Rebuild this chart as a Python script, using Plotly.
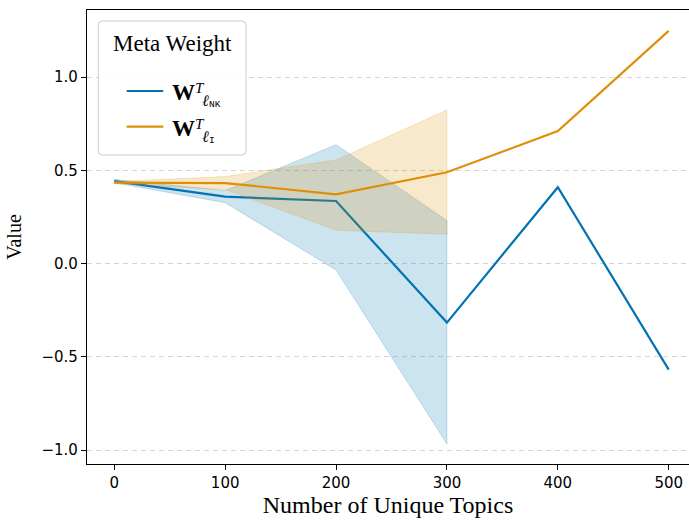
import plotly.graph_objects as go

# ---- data ----
topics = [0, 100, 200, 300, 400, 500]
nk_mean = [0.443, 0.359, 0.336, -0.316, 0.410, -0.568]
i_mean = [0.434, 0.432, 0.372, 0.490, 0.711, 1.248]

band_topics = [0, 100, 200, 300]
nk_upper = [0.452, 0.392, 0.638, 0.231]
nk_lower = [0.434, 0.327, -0.034, -0.967]
i_upper = [0.440, 0.467, 0.556, 0.824]
i_lower = [0.428, 0.398, 0.179, 0.158]

y_ticks = [-1.0, -0.5, 0.0, 0.5, 1.0]
y_tick_labels = ["−1.0", "−0.5", "0.0", "0.5", "1.0"]
x_ticks = [0, 100, 200, 300, 400, 500]

BLUE = "#0173B2"
ORANGE = "#DE8F05"
BLUE_FILL = "rgba(1,115,178,0.2)"
ORANGE_FILL = "rgba(222,143,5,0.2)"

W, H = 689, 521
L, R, T, B = 87, 0, 10, 57
PW, PH = W - L - R, H - T - B


def px(x):
    return (x - L) / PW


def py(y):
    return (H - B - y) / PH


fig = go.Figure()


def band(xs, up, lo, color):
    return go.Scatter(
        x=list(xs) + list(xs[::-1]),
        y=list(up) + list(lo[::-1]),
        fill="toself", fillcolor=color,
        line=dict(color=color, width=1),
        mode="lines", hoverinfo="skip", showlegend=False)


fig.add_trace(band(band_topics, nk_upper, nk_lower, BLUE_FILL))
fig.add_trace(go.Scatter(x=topics, y=nk_mean, mode="lines",
                         line=dict(color=BLUE, width=2.2), showlegend=False))
fig.add_trace(band(band_topics, i_upper, i_lower, ORANGE_FILL))
fig.add_trace(go.Scatter(x=topics, y=i_mean, mode="lines",
                         line=dict(color=ORANGE, width=2.2), showlegend=False))

serif = "Liberation Serif"
sans = "DejaVu Sans"

fig.update_layout(
    width=W, height=H,
    margin=dict(l=L, r=R, t=T, b=B, pad=0),
    paper_bgcolor="white", plot_bgcolor="white",
    showlegend=False,
    xaxis=dict(
        range=[-24.6, 518.3], tickvals=x_ticks, ticks="outside", ticklen=5,
        tickwidth=1.2, tickcolor="black", showline=True, linecolor="black",
        linewidth=1.3, mirror=True, showgrid=False, zeroline=False,
        automargin=False,
        tickfont=dict(family=sans, size=15, color="black"),
        title=dict(text="Number of Unique Topics",
                   font=dict(family=serif, size=24, color="black"), standoff=3),
    ),
    yaxis=dict(
        range=[-1.074, 1.36], tickvals=y_ticks, ticktext=y_tick_labels,
        ticks="outside", ticklen=5, tickwidth=1.2, tickcolor="black",
        showline=True, linecolor="black", linewidth=1.3, mirror=False,
        showgrid=True, gridcolor="#d4d4d4", gridwidth=1, griddash="5px,4px",
        zeroline=False, automargin=False,
        tickfont=dict(family=sans, size=15, color="black"),
        title=dict(text="Value", font=dict(family=serif, size=20, color="black"), standoff=14),
    ),
)

# ---- custom legend (box, title, lines, math-like labels) ----
x0, x1, y0, y1, r = 98.3, 246, 21, 155, 4
path = (f"M {px(x0 + r)} {py(y0)} L {px(x1 - r)} {py(y0)} "
        f"Q {px(x1)} {py(y0)} {px(x1)} {py(y0 + r)} "
        f"L {px(x1)} {py(y1 - r)} Q {px(x1)} {py(y1)} {px(x1 - r)} {py(y1)} "
        f"L {px(x0 + r)} {py(y1)} Q {px(x0)} {py(y1)} {px(x0)} {py(y1 - r)} "
        f"L {px(x0)} {py(y0 + r)} Q {px(x0)} {py(y0)} {px(x0 + r)} {py(y0)} Z")
fig.add_shape(type="path", path=path, xref="paper", yref="paper",
              fillcolor="rgba(255,255,255,0.85)",
              line=dict(color="#cccccc", width=1), layer="above")

anns = []


def ann(text, x, y, size, family=serif, xanchor="left", italic=False, bold=False):
    if bold:
        text = f"<b>{text}</b>"
    if italic:
        text = f"<i>{text}</i>"
    anns.append(dict(text=text, x=px(x), y=py(y), xref="paper", yref="paper",
                     xanchor=xanchor, yanchor="middle", showarrow=False,
                     font=dict(family=family, size=size, color="black"),
                     borderpad=0))


ann("Meta Weight", 172, 43.5, 23, xanchor="center")

for line_y, color, sub, dy in [(91, BLUE, "NK", 0), (126.7, ORANGE, "I", 35.7)]:
    fig.add_shape(type="line", xref="paper", yref="paper",
                  x0=px(126.7), x1=px(163.3), y0=py(line_y), y1=py(line_y),
                  line=dict(color=color, width=2.2), layer="above")
    ann("W", 170.5, 92.5 + dy, 23, bold=True)
    ann("T", 194, 88.5 + dy, 15, italic=True)
    ann("ℓ", 200.5, 100.5 + dy, 16, italic=True)
    ann(sub, 207.5, 104.5 + dy, 9.5, family="Liberation Mono")

fig.update_layout(annotations=anns)

fig.write_html("out.html", config={"displayModeBar": False},
               post_script="document.body.style.margin='0';")
